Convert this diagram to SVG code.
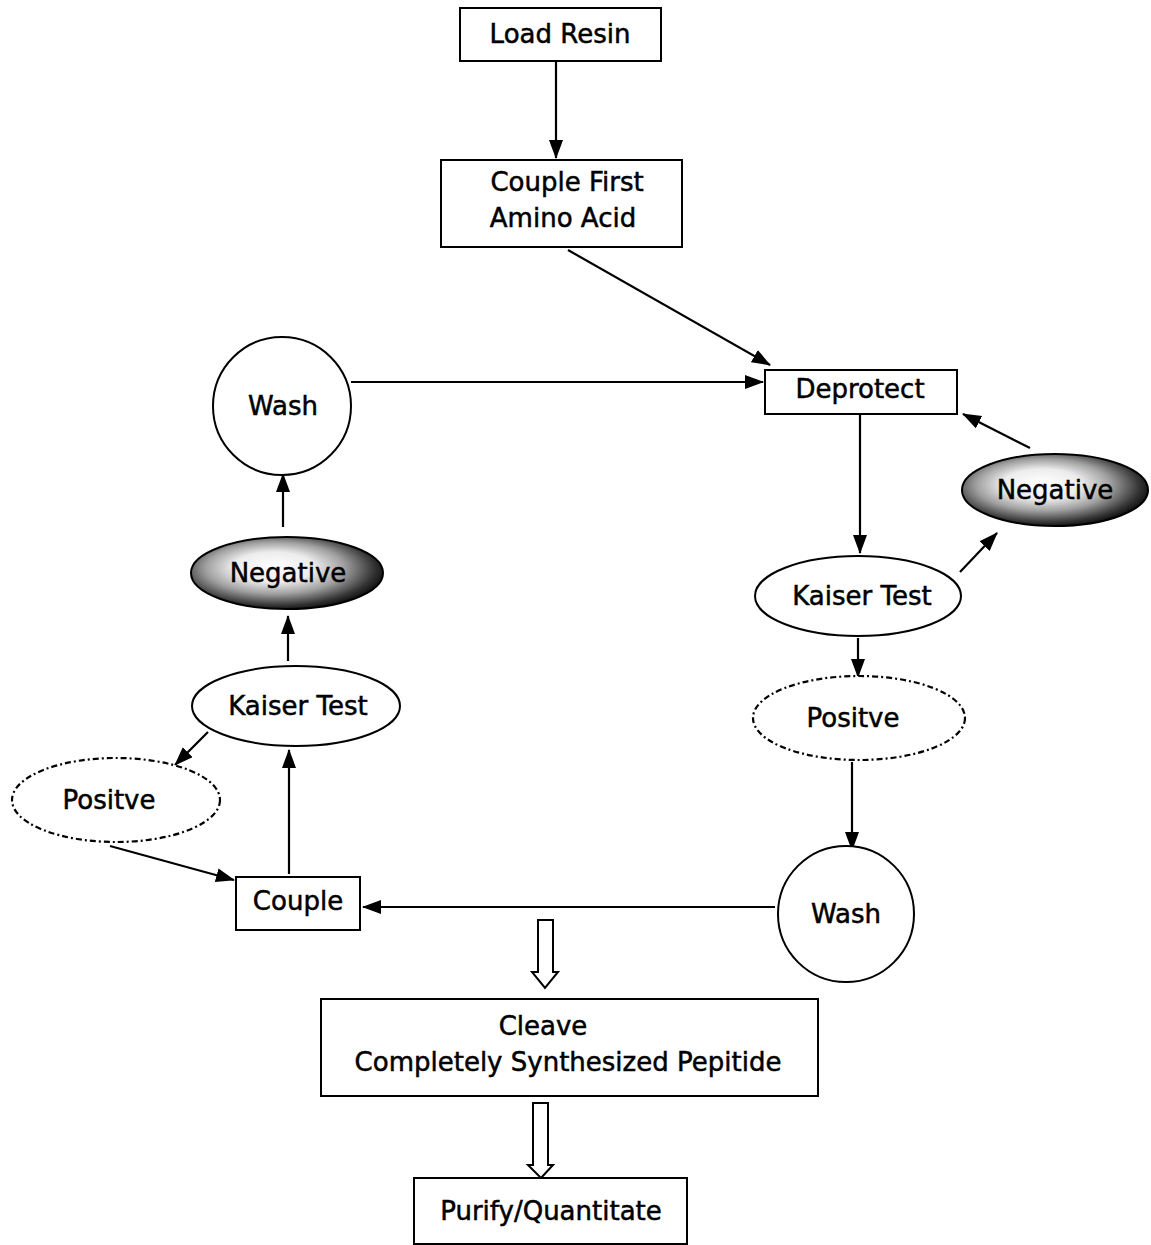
<svg xmlns="http://www.w3.org/2000/svg" width="1151" height="1245" viewBox="0 0 1151 1245">
<style>
.box{fill:#fff;stroke:#000;stroke-width:2}
.ell{fill:#fff;stroke:#000;stroke-width:2}
.dash{fill:#fff;stroke:#000;stroke-width:2.2;stroke-dasharray:6 3 2 3}
.neg{fill:url(#g);stroke:#000;stroke-width:2}
.t{font-family:"DejaVu Sans",Verdana,sans-serif;font-size:26px;fill:#000;stroke:#000;stroke-width:0.5;text-anchor:middle}
.c line{stroke:#000;stroke-width:2.2;marker-end:url(#ah)}
.hollow{fill:#fff;stroke:#000;stroke-width:2}
</style>
<defs>
<marker id="ah" markerUnits="userSpaceOnUse" markerWidth="22" markerHeight="16" refX="18" refY="7" orient="auto">
<path d="M0,0 L19,7 L0,14 Z" fill="#000"/>
</marker>
<radialGradient id="g" cx="0.45" cy="0.45" r="0.6" fx="0.42" fy="0.4">
<stop offset="0" stop-color="#ffffff"/>
<stop offset="0.35" stop-color="#ececec"/>
<stop offset="0.6" stop-color="#a0a0a0"/>
<stop offset="0.85" stop-color="#333"/>
<stop offset="1" stop-color="#000"/>
</radialGradient>
</defs>
<g class="c" id="connectors">
<line x1="556" y1="61" x2="556" y2="158"/>
<line x1="568" y1="250" x2="770" y2="365"/>
<line x1="351" y1="382" x2="763" y2="382"/>
<line x1="860" y1="415" x2="860" y2="553"/>
<line x1="1030" y1="448" x2="963" y2="414"/>
<line x1="960" y1="572" x2="997" y2="533"/>
<line x1="858" y1="638" x2="858" y2="677"/>
<line x1="852" y1="762" x2="852" y2="850"/>
<line x1="775" y1="907" x2="363" y2="907"/>
<line x1="289" y1="874" x2="289" y2="750"/>
<line x1="288" y1="661" x2="288" y2="616"/>
<line x1="283" y1="527" x2="283" y2="474"/>
<line x1="208" y1="732" x2="175" y2="765"/>
<line x1="110" y1="846" x2="234" y2="880"/>
<path class="hollow" d="M538,920 L553,920 L553,972 L558,972 L545,988 L532,972 L538,972 Z"/>
<path class="hollow" d="M533,1103 L548,1103 L548,1165 L553,1165 L541,1178 L528,1165 L533,1165 Z"/>
</g>
<g id="load-resin"><rect class="box" x="460" y="8" width="201" height="53"/><text class="t" x="560" y="43">Load Resin</text></g>
<g id="couple-first"><rect class="box" x="441" y="160" width="241" height="87"/><text class="t" x="567" y="191">Couple First</text><text class="t" x="563" y="227">Amino Acid</text></g>
<g id="deprotect"><rect class="box" x="765" y="370" width="192" height="44"/><text class="t" x="860" y="398">Deprotect</text></g>
<g id="wash-left"><circle class="ell" cx="282" cy="406" r="69"/><text class="t" x="283" y="415">Wash</text></g>
<g id="negative-right"><ellipse class="neg" cx="1055" cy="490" rx="93" ry="36"/><text class="t" x="1055" y="499">Negative</text></g>
<g id="kaiser-right"><ellipse class="ell" cx="858" cy="596" rx="103" ry="40"/><text class="t" x="862" y="605">Kaiser Test</text></g>
<g id="positive-right"><ellipse class="dash" cx="859" cy="718" rx="106" ry="42"/><text class="t" x="853" y="727">Positve</text></g>
<g id="wash-right"><circle class="ell" cx="846" cy="914" r="68"/><text class="t" x="846" y="923">Wash</text></g>
<g id="couple"><rect class="box" x="236" y="877" width="124" height="53"/><text class="t" x="298" y="910">Couple</text></g>
<g id="kaiser-left"><ellipse class="ell" cx="296" cy="706" rx="104" ry="40"/><text class="t" x="298" y="715">Kaiser Test</text></g>
<g id="negative-left"><ellipse class="neg" cx="287" cy="573" rx="96" ry="36"/><text class="t" x="288" y="582">Negative</text></g>
<g id="positive-left"><ellipse class="dash" cx="116" cy="800" rx="104" ry="42"/><text class="t" x="109" y="809">Positve</text></g>
<g id="cleave"><rect class="box" x="321" y="999" width="497" height="97"/><text class="t" x="543" y="1035">Cleave</text><text class="t" x="568" y="1071">Completely Synthesized Pepitide</text></g>
<g id="purify"><rect class="box" x="414" y="1178" width="273" height="66"/><text class="t" x="551" y="1220">Purify/Quantitate</text></g>
</svg>
